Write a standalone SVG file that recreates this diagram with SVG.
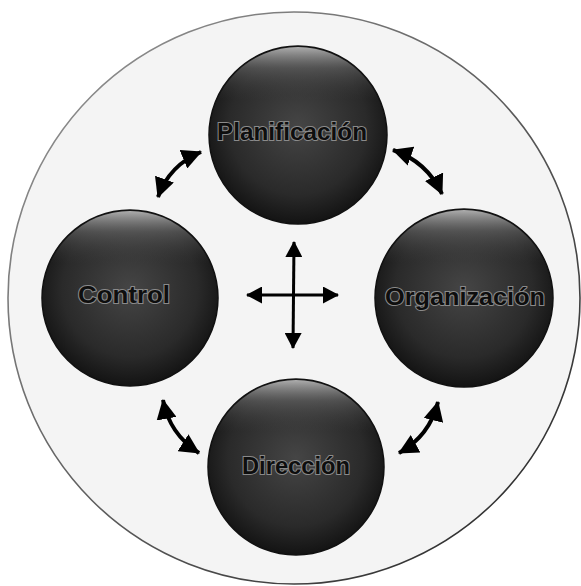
<svg xmlns="http://www.w3.org/2000/svg" width="581" height="586" viewBox="0 0 581 586">
<defs>
<radialGradient id="ball" cx="0.5" cy="0.45" r="0.55">
<stop offset="0" stop-color="#454545"/>
<stop offset="0.7" stop-color="#2a2a2a"/>
<stop offset="1" stop-color="#131313"/>
</radialGradient>
<linearGradient id="rim" x1="0" y1="0" x2="0" y2="1">
<stop offset="0" stop-color="#bdbdbd" stop-opacity="0.9"/>
<stop offset="0.12" stop-color="#777" stop-opacity="0.5"/>
<stop offset="0.3" stop-color="#444" stop-opacity="0"/>
</linearGradient>
<linearGradient id="ring" x1="0" y1="0" x2="1" y2="1">
<stop offset="0" stop-color="#9a9a9a"/>
<stop offset="1" stop-color="#222"/>
</linearGradient>
<marker id="head" viewBox="0 0 20 20" refX="19" refY="10" markerWidth="20" markerHeight="20" markerUnits="userSpaceOnUse" orient="auto-start-reverse">
<path d="M0,0 L20,10 L0,20 Z" fill="#000"/>
</marker>
<marker id="head2" viewBox="0 0 16 17" refX="15" refY="8.5" markerWidth="16" markerHeight="17" markerUnits="userSpaceOnUse" orient="auto-start-reverse">
<path d="M0,0 L16,8.5 L0,17 Z" fill="#000"/>
</marker>
<style>
.ball{fill:url(#ball);stroke:#111;stroke-width:1.5}
.shine{fill:url(#rim)}
.lbl{font-family:"Liberation Sans",Arial,sans-serif;font-weight:bold;font-size:24px;fill:#0e0e0e;stroke:#8a8a8a;stroke-width:2;paint-order:stroke;text-anchor:middle}
.arc{fill:none;stroke:#000;stroke-width:4;marker-start:url(#head);marker-end:url(#head)}
.cross{fill:none;stroke:#000;stroke-width:3;marker-start:url(#head2);marker-end:url(#head2)}
</style>
</defs>
<rect width="581" height="586" fill="#fff"/>
<circle id="background" cx="294" cy="298" r="286" fill="#f4f4f4" stroke="url(#ring)" stroke-width="1.6"/>
<g id="connectors">
<path class="arc" d="M158,197 Q169.5,165 201,152"/>
<path class="arc" d="M393,150 Q427,161.6 442,194"/>
<path class="arc" d="M438,402 Q429.6,436 399,453"/>
<path class="arc" d="M163,400 Q169.4,434 199,453"/>
<path class="cross" d="M294,242 L293,348"/>
<path class="cross" d="M247,295 L338,295"/>
</g>
<g id="planificacion">
<circle class="ball" cx="298" cy="135" r="89"/>
<circle class="shine" cx="298" cy="135" r="88"/>
<text class="lbl" x="292" y="140" textLength="150" lengthAdjust="spacingAndGlyphs">Planificación</text>
</g>
<g id="control">
<circle class="ball" cx="130" cy="298" r="88"/>
<circle class="shine" cx="130" cy="298" r="87"/>
<text class="lbl" x="124" y="303" textLength="92" lengthAdjust="spacingAndGlyphs">Control</text>
</g>
<g id="organizacion">
<circle class="ball" cx="464" cy="298" r="89"/>
<circle class="shine" cx="464" cy="298" r="88"/>
<text class="lbl" x="465" y="305" textLength="160" lengthAdjust="spacingAndGlyphs">Organización</text>
</g>
<g id="direccion">
<circle class="ball" cx="296" cy="467" r="88"/>
<circle class="shine" cx="296" cy="467" r="87"/>
<text class="lbl" x="296" y="474" textLength="108" lengthAdjust="spacingAndGlyphs">Dirección</text>
</g>
</svg>
